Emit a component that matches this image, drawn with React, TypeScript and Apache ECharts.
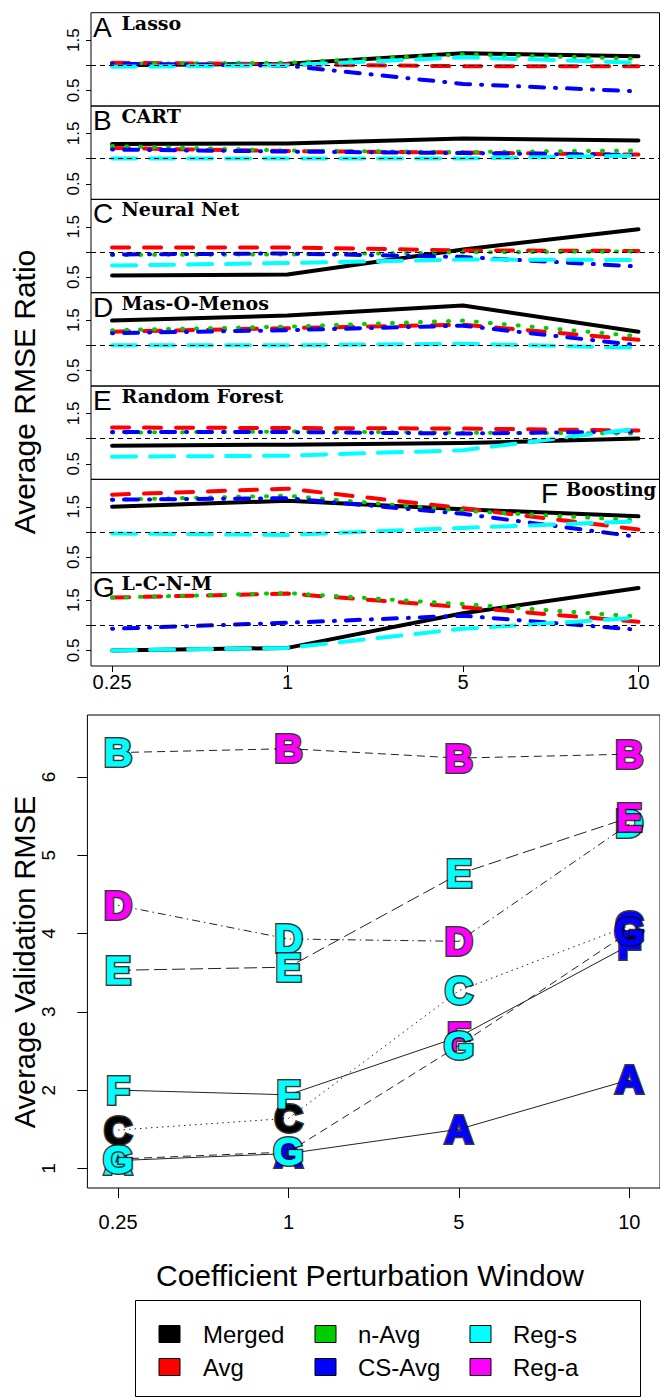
import React, { useEffect, useRef } from 'react';
import * as echarts from 'echarts';

// ---------- data ----------
const xTickLabels = ['0.25', '1', '5', '10'];
const panelLetters = ['A', 'B', 'C', 'D', 'E', 'F', 'G'];
const panelNames = ['Lasso', 'CART', 'Neural Net', 'Mas-O-Menos', 'Random Forest', 'Boosting', 'L-C-N-M'];
const methodNames = ['Merged', 'Avg', 'n-Avg', 'CS-Avg', 'Reg-s', 'Reg-a'];
const methodColors = ['#000000', '#FF0000', '#00CD00', '#0000FF', '#00FFFF', '#FF00FF'];

// rows: Merged, Avg, n-Avg, CS-Avg, Reg-s ; columns: 0.25, 1, 5, 10
const lassoRatio = [
  [1.0, 1.03, 1.24, 1.18],
  [1.05, 1.02, 0.98, 0.98],
  [1.03, 1.05, 1.22, 1.13],
  [1.03, 0.99, 0.63, 0.48],
  [0.97, 1.0, 1.16, 1.05],
];
const cartRatio = [
  [1.29, 1.3, 1.4, 1.36],
  [1.21, 1.15, 1.12, 1.08],
  [1.25, 1.16, 1.13, 1.16],
  [1.18, 1.14, 1.11, 1.07],
  [1.0, 1.0, 1.0, 1.06],
];
const neuralNetRatio = [
  [0.53, 0.55, 1.05, 1.45],
  [1.09, 1.09, 1.03, 1.02],
  [0.94, 0.95, 0.99, 1.01],
  [0.95, 0.97, 0.9, 0.71],
  [0.73, 0.78, 0.85, 0.84],
];
const masOMenosRatio = [
  [1.49, 1.59, 1.79, 1.27],
  [1.27, 1.34, 1.41, 1.11],
  [1.3, 1.37, 1.49, 1.18],
  [1.24, 1.3, 1.39, 1.0],
  [1.0, 1.0, 1.03, 0.95],
];
const randomForestRatio = [
  [0.86, 0.88, 0.91, 1.0],
  [1.22, 1.21, 1.2, 1.16],
  [1.12, 1.14, 1.12, 1.1],
  [1.13, 1.13, 1.1, 1.14],
  [0.64, 0.66, 0.77, 1.2],
];
const boostingRatio = [
  [1.5, 1.62, 1.45, 1.31],
  [1.74, 1.86, 1.47, 1.05],
  [1.64, 1.72, 1.42, 1.23],
  [1.64, 1.67, 1.36, 0.9],
  [0.97, 0.94, 1.08, 1.21],
];
const lcnmRatio = [
  [0.5, 0.55, 1.24, 1.74],
  [1.55, 1.63, 1.36, 1.07],
  [1.55, 1.64, 1.42, 1.17],
  [0.93, 1.05, 1.19, 0.91],
  [0.5, 0.55, 0.93, 1.15],
];
const ratioPanels = [lassoRatio, cartRatio, neuralNetRatio, masOMenosRatio, randomForestRatio, boostingRatio, lcnmRatio];
const ratioTickValues = [0.5, 1, 1.5];
const ratioLabelValues = [0.5, 1.5];

// bottom panel: average validation RMSE per model, and best method at each window
const rmseA = [1.1, 1.19, 1.5, 2.13];
const rmseB = [6.31, 6.36, 6.24, 6.29];
const rmseC = [1.49, 1.64, 3.27, 4.1];
const rmseD = [4.36, 3.93, 3.9, 5.4];
const rmseE = [3.53, 3.57, 4.76, 5.48];
const rmseF = [2.0, 1.94, 2.68, 3.85];
const rmseG = [1.12, 1.21, 2.57, 4.02];
const bestA = ['Reg-s', 'CS-Avg', 'CS-Avg', 'CS-Avg'];
const bestB = ['Reg-s', 'Reg-a', 'Reg-a', 'Reg-a'];
const bestC = ['Merged', 'Merged', 'Reg-s', 'CS-Avg'];
const bestD = ['Reg-a', 'Reg-s', 'Reg-a', 'Reg-s'];
const bestE = ['Reg-s', 'Reg-s', 'Reg-s', 'Reg-a'];
const bestF = ['Reg-s', 'Reg-s', 'Reg-a', 'CS-Avg'];
const bestG = ['Reg-s', 'Reg-s', 'Reg-s', 'CS-Avg'];
const rmseModels = [rmseA, rmseB, rmseC, rmseD, rmseE, rmseF, rmseG];
const bestModels = [bestA, bestB, bestC, bestD, bestE, bestF, bestG];
const rmseTickValues = [1, 2, 3, 4, 5, 6];

// ---------- styles ----------
const SANS = 'Liberation Sans, Arial, Helvetica, sans-serif';
const SERIF = 'DejaVu Serif, serif';
const ratioDash: any[] = ['solid', [17, 15], [1, 13], [1, 11, 14, 11], [24, 14]];
const modelDash: any[] = ['solid', [8, 5], [1.5, 4], [1.5, 4, 8, 4], [13, 5], 'solid', [8, 5]];
const LETTER_SIZE = 39;

const P_TOP = 12.7;
const P_H = 93.33;
const P_LEFT = 91;
const P_W = 568.5;

function txt(x: number, y: number, text: string, size: number, family: string, opts: any = {}) {
  const align = opts.align || 'left';
  const va = opts.va || 'middle';
  return {
    type: 'text',
    x,
    y,
    rotation: opts.rotation || 0,
    silent: true,
    style: {
      text,
      fontSize: size,
      fontFamily: family,
      fontWeight: opts.weight || 'normal',
      fill: '#000',
      align,
      verticalAlign: va,
      textAlign: align,
      textVerticalAlign: va,
    },
  };
}

function buildOption() {
  const grid: any[] = [];
  const xAxis: any[] = [];
  const yAxis: any[] = [];
  const series: any[] = [];
  const graphic: any[] = [];

  ratioPanels.forEach((rows, p) => {
    const top = P_TOP + p * P_H;
    const last = p === ratioPanels.length - 1;
    grid.push({ left: P_LEFT, top, width: P_W, height: P_H, show: true, borderColor: '#000', borderWidth: 1, backgroundColor: 'transparent' });
    xAxis.push({
      type: 'value', gridIndex: p, min: -0.12, max: 3.12,
      axisLine: { show: false, onZero: false }, splitLine: { show: false },
      axisTick: { show: last, customValues: [0, 1, 2, 3], length: 6, lineStyle: { color: '#000' } },
      axisLabel: { show: last, customValues: [0, 1, 2, 3], formatter: (v: number) => xTickLabels[Math.round(v)], fontSize: 20, color: '#000', fontFamily: SANS, margin: 6 },
    });
    yAxis.push({
      type: 'value', gridIndex: p, min: 0.19, max: 2.045,
      axisLine: { show: false, onZero: false }, splitLine: { show: false },
      axisTick: { show: true, customValues: ratioTickValues, length: 5, lineStyle: { color: '#000' } },
      axisLabel: { customValues: ratioLabelValues, rotate: 90, formatter: (v: number) => v.toFixed(1), fontSize: 17, color: '#000', fontFamily: SANS, margin: 9 },
    });
    rows.forEach((vals, m) => {
      const s: any = {
        type: 'line', xAxisIndex: p, yAxisIndex: p, name: methodNames[m],
        data: vals.map((v, j) => [j, v]), symbol: 'none', silent: true, z: 2,
        lineStyle: { color: methodColors[m], width: 4, type: ratioDash[m], cap: 'round', join: 'round' },
      };
      if (m === rows.length - 1) {
        s.markLine = {
          silent: true, symbol: ['none', 'none'], label: { show: false },
          lineStyle: { color: '#000', width: 1, type: [5, 4] },
          data: [{ yAxis: 1 }],
        };
      }
      series.push(s);
    });
    const isF = p === 5;
    graphic.push(txt(isF ? 541 : 93, top + 14.5, panelLetters[p], 28, SANS));
    graphic.push(txt(isF ? 566 : 121.5, top + 10, panelNames[p], isF ? 18 : 19, SERIF, { weight: 'bold' }));
  });

  // bottom panel
  const bi = ratioPanels.length;
  grid.push({ left: 87.4, top: 715, width: 578, height: 473, show: true, borderColor: '#000', borderWidth: 1, backgroundColor: 'transparent' });
  xAxis.push({
    type: 'value', gridIndex: bi, min: -0.18, max: 3.18,
    axisLine: { show: false, onZero: false }, splitLine: { show: false },
    axisTick: { customValues: [0, 1, 2, 3], length: 10, lineStyle: { color: '#000' } },
    axisLabel: { customValues: [0, 1, 2, 3], formatter: (v: number) => xTickLabels[Math.round(v)], fontSize: 20, color: '#000', fontFamily: SANS, margin: 24 },
  });
  yAxis.push({
    type: 'value', gridIndex: bi, min: 0.75, max: 6.79,
    axisLine: { show: false, onZero: false }, splitLine: { show: false },
    axisTick: { customValues: rmseTickValues, length: 10, lineStyle: { color: '#000' } },
    axisLabel: { customValues: rmseTickValues, rotate: 90, formatter: (v: number) => String(v), fontSize: 19, color: '#000', fontFamily: SANS, margin: 29 },
  });
  rmseModels.forEach((vals, k) => {
    series.push({
      type: 'line', xAxisIndex: bi, yAxisIndex: bi, name: 'line-' + panelLetters[k],
      data: vals.map((v, j) => [j, v]), symbol: 'none', silent: true, z: 2,
      lineStyle: { color: '#222', width: 1, type: modelDash[k] },
    });
  });
  rmseModels.forEach((vals, k) => {
    // black outline layer, then coloured letter on top
    series.push({
      type: 'scatter', xAxisIndex: bi, yAxisIndex: bi, name: 'outline-' + panelLetters[k], z: 5 + 2 * k,
      symbol: 'circle', symbolSize: 1, silent: true,
      itemStyle: { color: 'rgba(0,0,0,0)' },
      data: vals.map((v, j) => [j, v]),
      label: {
        show: true, position: 'inside', formatter: panelLetters[k], color: '#000',
        fontSize: LETTER_SIZE, fontWeight: 'bold', fontFamily: SANS, textBorderColor: '#000', textBorderWidth: 4,
      },
      labelLayout: { hideOverlap: false },
    });
    series.push({
      type: 'scatter', xAxisIndex: bi, yAxisIndex: bi, name: 'pt-' + panelLetters[k], z: 6 + 2 * k,
      symbol: 'circle', symbolSize: 1, silent: true,
      itemStyle: { color: 'rgba(0,0,0,0)' },
      data: vals.map((v, j) => {
        const c = methodColors[methodNames.indexOf(bestModels[k][j])];
        return { value: [j, v], label: { color: c, textBorderColor: c, textBorderWidth: 1 } };
      }),
      label: {
        show: true, position: 'inside', formatter: panelLetters[k], opacity: 1,
        fontSize: LETTER_SIZE, fontWeight: 'bold', fontFamily: SANS,
      },
      labelLayout: { hideOverlap: false },
    });
  });

  // titles
  graphic.push(txt(24, 392, 'Average RMSE Ratio', 30, SANS, { rotation: Math.PI / 2, align: 'center' }));
  graphic.push(txt(25, 962, 'Average Validation RMSE', 29, SANS, { rotation: Math.PI / 2, align: 'center' }));
  graphic.push(txt(370, 1275, 'Coefficient Perturbation Window', 30, SANS, { align: 'center' }));

  // legend box
  graphic.push({ type: 'rect', silent: true, shape: { x: 135.5, y: 1300.5, width: 505, height: 96 }, style: { fill: 'none', stroke: '#000', lineWidth: 1 } });
  const colX = [159, 315, 470];
  const textX = [203, 358, 513];
  const rowY = [1334, 1367];
  methodNames.forEach((name, i) => {
    const c = Math.floor(i / 2);
    const r = i % 2;
    graphic.push({ type: 'rect', silent: true, shape: { x: colX[c], y: rowY[r] - 8.5, width: 21, height: 17 }, style: { fill: methodColors[i], stroke: '#000', lineWidth: 1 } });
    graphic.push(txt(textX[c], rowY[r], name, 24, SANS));
  });

  return { animation: false, backgroundColor: '#fff', grid, xAxis, yAxis, series, graphic };
}

export default function App() {
  const ref = useRef<HTMLDivElement>(null);
  useEffect(() => {
    document.body.style.margin = '0';
    const chart = echarts.init(ref.current as HTMLDivElement, null, { renderer: 'svg' });
    chart.setOption(buildOption() as any);
    return () => chart.dispose();
  }, []);
  return <div ref={ref} style={{ width: 660, height: 1398 }} />;
}
